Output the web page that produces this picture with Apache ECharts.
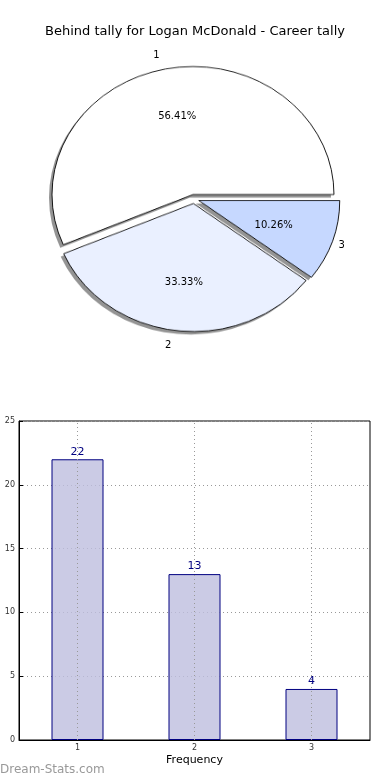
<!DOCTYPE html>
<html><head><meta charset="utf-8">
<script src="https://cdn.jsdelivr.net/npm/echarts@6/dist/echarts.min.js"></script>
<style>
html,body{margin:0;padding:0;background:#fff}
#wrap{position:relative;width:390px;height:780px}
#p{position:absolute;left:0;top:0;width:390px;height:400px;transform:scaleY(0.908);transform-origin:194px 199px}
#c{position:absolute;left:0;top:0;width:390px;height:780px}
</style>
</head><body><div id="wrap"><div id="p"></div><div id="c"></div></div>
<script>
const chartTitle = 'Behind tally for Logan McDonald - Career tally';
const categories = ['1', '2', '3'];
const counts = [22, 13, 4];
const pieColors = ['#ffffff', '#eaf0ff', '#c6d8ff'];
const yTicks = [0, 5, 10, 15, 20, 25];
const xAxisName = 'Frequency';
const yAxisName = 'Occurrences';
const watermark = 'Dream-Stats.com';

const FONT = 'DejaVu Sans';
const C = [194, 199], R = 141, OFF = 5;
const pieData = categories.map((c, i) => ({ name: c, value: counts[i], selected: true, itemStyle: { color: pieColors[i] } }));
const plainData = categories.map((c, i) => ({ name: c, value: counts[i], selected: true }));

// Wedges (drawn as a circle, stretched to matplotlib's ellipse by the CSS scale of #p)
const pie = echarts.init(document.getElementById('p'), null, { renderer: 'canvas' });
pie.setOption({
  animation: false,
  backgroundColor: 'transparent',
  series: [
    {
      type: 'pie', center: [C[0] - 3, C[1] + 3.3], radius: R, startAngle: 0, clockwise: false,
      selectedMode: 'multiple', selectedOffset: OFF, silent: true,
      data: plainData,
      itemStyle: { color: 'rgba(0,0,0,0.42)', borderWidth: 0 },
      label: { show: false }, labelLine: { show: false }
    },
    {
      type: 'pie', center: C, radius: R, startAngle: 0, clockwise: false,
      selectedMode: 'multiple', selectedOffset: OFF, silent: true,
      data: pieData,
      itemStyle: { borderColor: '#000', borderWidth: 0.9 },
      label: { show: false }, labelLine: { show: false }
    }
  ]
});

const chart = echarts.init(document.getElementById('c'), null, { renderer: 'canvas' });
chart.setOption({
  animation: false,
  backgroundColor: 'transparent',
  title: { text: chartTitle, left: 'center', top: 20, textStyle: { fontFamily: FONT, fontSize: 13, fontWeight: 'normal', color: '#000' } },
  graphic: [{ type: 'text', left: 0, top: 764, style: { text: watermark, fontFamily: FONT, fontSize: 12, fontWeight: 'normal', fill: '#999' } }],
  grid: { left: 19, right: 20, top: 421, bottom: 40, containLabel: false, outerBoundsMode: 'none', show: true, borderColor: '#000', borderWidth: 1, backgroundColor: 'transparent' },
  xAxis: {
    type: 'category', data: categories, boundaryGap: true,
    name: xAxisName, nameLocation: 'middle', nameGap: 15, nameMoveOverlap: false,
    nameTextStyle: { fontFamily: FONT, fontSize: 11, color: '#000' },
    axisLine: { lineStyle: { color: '#000' } },
    axisTick: { alignWithLabel: true, inside: true, length: 4, lineStyle: { color: '#000' } },
    axisLabel: { fontFamily: FONT, fontSize: 8, color: '#333', margin: 4 },
    splitLine: { show: false }
  },
  yAxis: {
    type: 'value', min: yTicks[0], max: yTicks[yTicks.length - 1], interval: 5,
    name: yAxisName, nameLocation: 'middle', nameGap: 20, nameMoveOverlap: false,
    nameTextStyle: { fontFamily: FONT, fontSize: 11, color: '#000' },
    axisLine: { show: true, lineStyle: { color: '#000' } },
    axisTick: { show: true, inside: true, length: 4, lineStyle: { color: '#000' } },
    axisLabel: { fontFamily: FONT, fontSize: 8, color: '#333', margin: 4 },
    splitLine: { show: true, lineStyle: { type: [1, 3], color: '#999', width: 1 } }
  },
  series: [
    {
      type: 'pie', center: C, radius: 152, startAngle: 0, clockwise: false,
      selectedMode: 'multiple', selectedOffset: OFF, silent: true,
      data: plainData,
      itemStyle: { color: 'rgba(0,0,0,0)', borderWidth: 0 },
      label: { show: true, position: 'inside', formatter: p => p.percent.toFixed(2) + '%', fontFamily: FONT, fontSize: 10, color: '#000' },
      labelLine: { show: false }
    },
    {
      type: 'pie', center: C, radius: 142, startAngle: 0, clockwise: false,
      selectedMode: 'multiple', selectedOffset: OFF, silent: true, avoidLabelOverlap: false,
      data: plainData,
      itemStyle: { color: 'rgba(0,0,0,0)', borderWidth: 0 },
      label: { show: true, position: 'outside', alignTo: 'none', distanceToLabelLine: 5, formatter: '{b}', fontFamily: FONT, fontSize: 10, color: '#000' },
      labelLine: { show: false, length: 0, length2: 0 }
    },
    {
      type: 'bar', data: counts, barWidth: 52,
      itemStyle: { color: 'rgba(190,190,222,0.8)', borderColor: '#000080', borderWidth: 1 },
      label: { show: true, position: 'top', distance: 2, fontFamily: FONT, fontSize: 11, color: '#000080' },
      markLine: {
        silent: true, symbol: ['none', 'none'], label: { show: false },
        lineStyle: { type: [1, 3], color: '#999', width: 1 },
        data: categories.map(c => ({ xAxis: c }))
      }
    }
  ]
});
</script></body></html>
